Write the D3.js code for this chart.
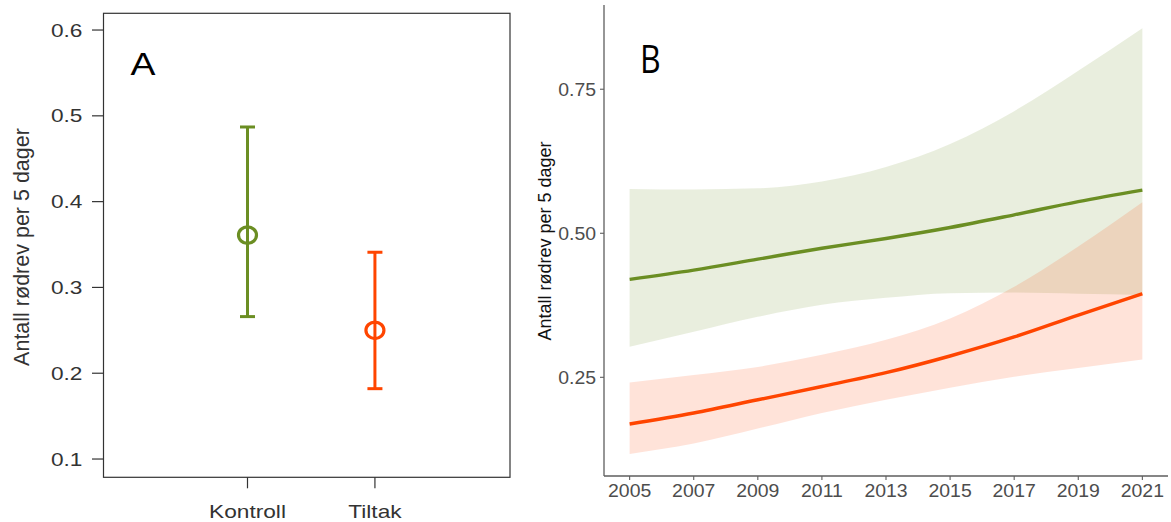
<!DOCTYPE html>
<html>
<head>
<meta charset="utf-8">
<script src="https://cdn.jsdelivr.net/npm/d3@7"></script>
<style>
  html, body { margin: 0; padding: 0; background: #fff; }
  svg { display: block; font-family: "Liberation Sans", Arial, sans-serif; }
</style>
</head>
<body>
<svg id="chart" width="1171" height="522"></svg>
<script>
// Panel A: mean with confidence interval per group
const groups = ["Kontroll", "Tiltak"];
const groupMean = [0.361, 0.250];
const groupLower = [0.266, 0.182];
const groupUpper = [0.487, 0.341];
const ticksA = [0.1, 0.2, 0.3, 0.4, 0.5, 0.6];

// Panel B: fitted trend with confidence ribbon per group
const years = [2005, 2007, 2009, 2011, 2013, 2015, 2017, 2019, 2021];
const kontrollFit  = [0.420, 0.436, 0.455, 0.474, 0.491, 0.510, 0.532, 0.555, 0.575];
const kontrollLow  = [0.303, 0.329, 0.355, 0.376, 0.388, 0.396, 0.397, 0.395, 0.393];
const kontrollHigh = [0.577, 0.576, 0.578, 0.590, 0.615, 0.655, 0.712, 0.782, 0.856];
const tiltakFit  = [0.169, 0.188, 0.211, 0.234, 0.258, 0.287, 0.320, 0.358, 0.395];
const tiltakLow  = [0.117, 0.135, 0.161, 0.188, 0.211, 0.232, 0.251, 0.266, 0.281];
const tiltakHigh = [0.241, 0.254, 0.268, 0.289, 0.315, 0.352, 0.407, 0.477, 0.554];
const ticksBy = [0.25, 0.50, 0.75];
const ticksBx = [2005, 2007, 2009, 2011, 2013, 2015, 2017, 2019, 2021];

const yLabel = "Antall rødrev per 5 dager";
const GREEN = "#6b8e23";
const ORANGE = "#ff4500";

const svg = d3.select("#chart");

// helper: text with horizontal stretch
function stext(g, x, y, str, size, sx, anchor, fill) {
  return g.append("text")
    .attr("transform", `translate(${x},${y}) scale(${sx},1)`)
    .attr("text-anchor", anchor)
    .attr("font-size", size)
    .attr("fill", fill)
    .text(str);
}

// ---------------- Panel A ----------------
{
  const g = svg.append("g");
  const left = 103.5, right = 510, top = 13.3, bottom = 477.3;
  const x = d3.scaleLinear().domain([-0.13, 3.06]).range([left, right]);
  const y = d3.scaleLinear().domain([0.0787, 0.6195]).range([bottom, top]);
  const ink = "#333";

  g.append("rect").attr("x", left).attr("y", top)
    .attr("width", right - left).attr("height", bottom - top)
    .attr("fill", "none").attr("stroke", ink).attr("stroke-width", 1.2);

  // y axis ticks and labels
  ticksA.forEach(t => {
    g.append("line").attr("x1", left - 11.5).attr("x2", left)
      .attr("y1", y(t)).attr("y2", y(t)).attr("stroke", ink).attr("stroke-width", 1.2);
    stext(g, 82.5, y(t) + 6.6, d3.format(".1f")(t), 18, 1.26, "end", ink);
  });

  // x axis ticks and labels
  groups.forEach((name, i) => {
    const cx = x(i + 1);
    g.append("line").attr("x1", cx).attr("x2", cx)
      .attr("y1", bottom).attr("y2", bottom + 11).attr("stroke", ink).attr("stroke-width", 1.2);
    stext(g, cx, 518, name, 18, 1.26, "middle", ink);
  });

  // y axis title
  g.append("text")
    .attr("transform", `translate(28.5,247) rotate(-90)`)
    .attr("text-anchor", "middle").attr("font-size", 21.5).attr("fill", ink)
    .text(yLabel);

  // panel letter
  stext(g, 130.5, 75, "A", 32, 1.17, "start", "#000");

  // error bars
  const colors = [GREEN, ORANGE];
  groups.forEach((name, i) => {
    const cx = x(i + 1), c = colors[i];
    g.append("line").attr("x1", cx).attr("x2", cx)
      .attr("y1", y(groupUpper[i])).attr("y2", y(groupLower[i]))
      .attr("stroke", c).attr("stroke-width", 3);
    [groupUpper[i], groupLower[i]].forEach(v => {
      g.append("line").attr("x1", cx - 7.5).attr("x2", cx + 7.5)
        .attr("y1", y(v)).attr("y2", y(v))
        .attr("stroke", c).attr("stroke-width", 3);
    });
    g.append("ellipse").attr("cx", cx).attr("cy", y(groupMean[i]))
      .attr("rx", 9).attr("ry", 8.3)
      .attr("fill", "none").attr("stroke", c).attr("stroke-width", 3.2);
  });
}

// ---------------- Panel B ----------------
{
  const g = svg.append("g");
  const left = 604, right = 1168, top = 5, bottom = 476;
  const x = d3.scaleLinear().domain([2004.2, 2021.8]).range([left, right]);
  const y = d3.scaleLinear().domain([0.0787, 0.8962]).range([bottom, top]);
  const axisInk = "#5e5e5e", labelInk = "#4d4d4d";

  const series = [
    { fit: kontrollFit, low: kontrollLow, high: kontrollHigh, color: GREEN },
    { fit: tiltakFit, low: tiltakLow, high: tiltakHigh, color: ORANGE }
  ];

  const area = d3.area().curve(d3.curveMonotoneX)
    .x(d => x(d.year)).y0(d => y(d.low)).y1(d => y(d.high));
  const line = d3.line().curve(d3.curveMonotoneX)
    .x(d => x(d.year)).y(d => y(d.fit));

  series.forEach(s => {
    const rows = years.map((yr, i) => ({ year: yr, low: s.low[i], high: s.high[i], fit: s.fit[i] }));
    g.append("path").datum(rows).attr("d", area)
      .attr("fill", s.color).attr("fill-opacity", 0.15);
  });
  series.forEach(s => {
    const rows = years.map((yr, i) => ({ year: yr, fit: s.fit[i] }));
    g.append("path").datum(rows).attr("d", line)
      .attr("fill", "none").attr("stroke", s.color).attr("stroke-width", 3.4);
  });

  // axes
  g.append("line").attr("x1", left).attr("x2", left).attr("y1", top).attr("y2", bottom)
    .attr("stroke", axisInk).attr("stroke-width", 1.3);
  g.append("line").attr("x1", left).attr("x2", right).attr("y1", bottom).attr("y2", bottom)
    .attr("stroke", axisInk).attr("stroke-width", 1.3);

  ticksBy.forEach(t => {
    g.append("line").attr("x1", left - 4).attr("x2", left).attr("y1", y(t)).attr("y2", y(t))
      .attr("stroke", axisInk).attr("stroke-width", 1.1);
    stext(g, 596, y(t) + 6.5, d3.format(".2f")(t), 18, 1.08, "end", labelInk);
  });
  ticksBx.forEach(t => {
    g.append("line").attr("x1", x(t)).attr("x2", x(t)).attr("y1", bottom).attr("y2", bottom + 4)
      .attr("stroke", axisInk).attr("stroke-width", 1.1);
    stext(g, x(t), 497, String(t), 18, 1.08, "middle", labelInk);
  });

  g.append("text")
    .attr("transform", `translate(551,241) rotate(-90)`)
    .attr("text-anchor", "middle").attr("font-size", 18).attr("fill", "#111")
    .text(yLabel);

  g.append("text")
    .attr("transform", "translate(640,73) scale(0.82,1)")
    .attr("font-family", "'Open Sans', 'Noto Sans', sans-serif")
    .attr("font-size", 39).attr("fill", "#000").text("B");
}
</script>
</body>
</html>
